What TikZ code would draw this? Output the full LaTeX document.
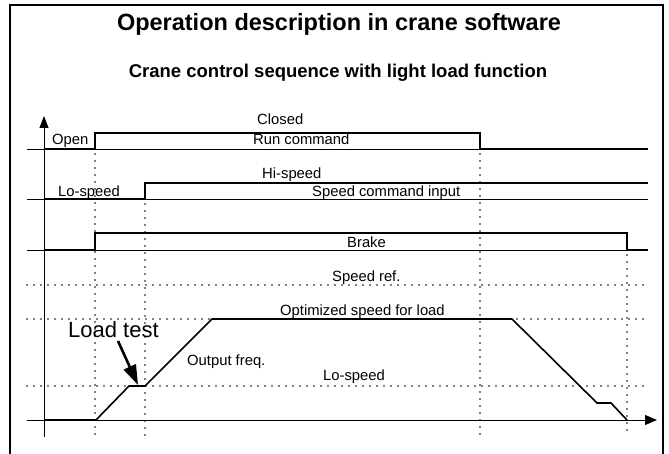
\documentclass[tikz,border=0pt]{standalone}
\usepackage{fontspec}
\setmainfont{Liberation Sans}
\usetikzlibrary{arrows.meta}

\tikzset{
  sig/.style={line width=1.6pt},
  rail/.style={line width=0.8pt},
  dotline/.style={line width=1.7pt,dash pattern=on 0pt off 7pt,line cap=round},
  lbl/.style={anchor=base west,inner sep=0pt,font=\fontsize{14.8}{16}\selectfont},
}

\begin{document}
\begin{tikzpicture}[x=1pt,y=-1pt]
\useasboundingbox (0,0) rectangle (669,454);
% frame
\draw[line width=2pt] (10,454) -- (10,5) -- (663,5) -- (663,454);

% titles
\path (339,31) node(title)[anchor=base,inner sep=0pt,font=\bfseries\fontsize{23.5}{26}\selectfont]{Operation description in crane software}
(338,78) node(subtitle)[anchor=base,inner sep=0pt,font=\bfseries\fontsize{18.5}{20}\selectfont]{Crane control sequence with light load function};

% time instants
\coordinate (t1) at (95,0);
\coordinate (t2) at (145,0);
\coordinate (t3) at (480,0);
\coordinate (t4) at (627,0);

% dotted levels and time marks
\draw[dotline] (27,285) -- (648,285);
\draw[dotline] (27,319) -- (648,319);
\draw[dotline] (27,386) -- (648,386);
\draw[dotline] (t1 |- 0,154) -- (t1 |- 0,437);
\draw[dotline] (t2 |- 0,204) -- (t2 |- 0,437);
\draw[dotline] (t3 |- 0,154) -- (t3 |- 0,437);
\draw[dotline] (t4 |- 0,255) -- (t4 |- 0,437);

% axes
\draw[line width=1pt,-{Triangle[length=12pt,width=9pt]}] (44,437) -- (44,116);
\draw[line width=1pt,-{Triangle[length=12pt,width=10pt]}] (27,420) -- (657,420);

% run command
\draw[rail] (27,149) -- (648,149);
\draw[sig] (44,149) -| (t1 |- 0,133) -| (t3 |- 0,149) -- (648,149);
% speed command
\draw[rail] (27,199) -- (648,199);
\draw[sig] (44,199) -| (t2 |- 0,183) -- (648,183);
% brake
\draw[rail] (27,250) -- (648,250);
\draw[sig] (44,250) -| (t1 |- 0,233) -| (t4 |- 0,250) -- (648,250);
% output freq.
\draw[sig] (44,420) -- (96,420) -- (129,386) -- (145,386) -- (212,319)
  -- (512,319) -- (597,403) -- (611,403) -- (627,420);

% labels
\path (257,125) node(closed)[lbl]{Closed}
(253,145) node(run)[lbl]{Run command}
(52,145) node(open)[lbl]{Open}
(262,179) node(hi)[lbl]{Hi-speed}
(58,197) node(lo)[lbl]{Lo-speed}
(312,197) node(spdcmd)[lbl]{Speed command input}
(347,248) node(brake)[lbl]{Brake}
(332,282) node(spdref)[lbl]{Speed ref.}
(280,315) node(opt)[lbl]{Optimized speed for load}
(187,365) node(outf)[lbl]{Output freq.}
(323,380) node(lolvl)[lbl]{Lo-speed}
(68,337) node(ltest)[lbl,font=\fontsize{22}{24}\selectfont]{Load test};
\coordinate (ltip) at (138,385);
\draw[line width=2.6pt,-{Triangle[length=20pt,width=13pt]}] (118,341) -- (ltip);

\end{tikzpicture}
\end{document}
